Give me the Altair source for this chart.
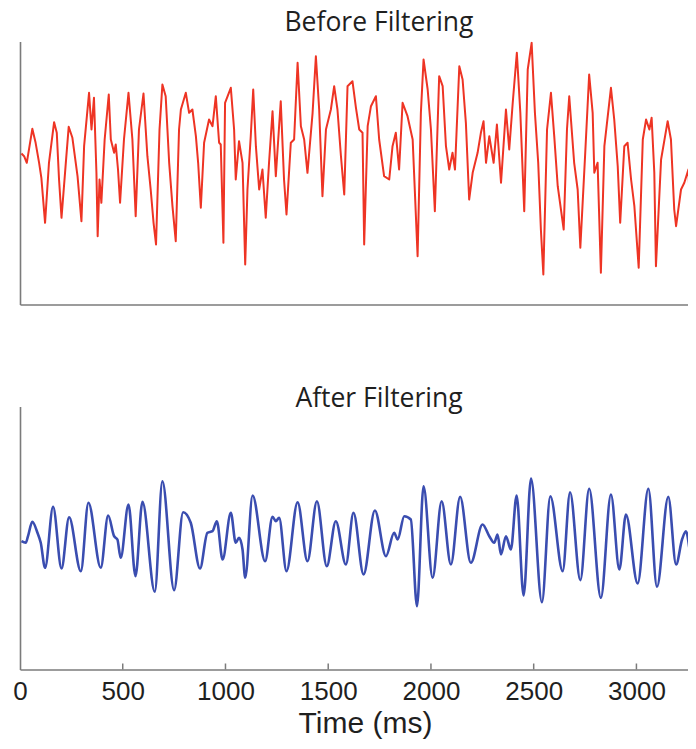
import altair as alt
import pandas as pd

# ---- data (time in ms, amplitude in arbitrary units) ----
red_t = [7, 20, 33, 60, 76, 93, 104, 122, 141, 166,
         179, 190, 202, 223, 237, 255, 280, 299, 312, 336,
         348, 360, 372, 378, 387, 396, 412, 432, 442, 458,
         466, 477, 487, 506, 528, 547, 563, 579, 601, 620,
         636, 650, 662, 679, 693, 709, 726, 742, 758, 774,
         783, 807, 823, 839, 856, 867, 880, 896, 920, 937,
         953, 969, 977, 990, 998, 1026, 1042, 1050, 1066, 1083,
         1096, 1107, 1123, 1135, 1148, 1164, 1180, 1196, 1212, 1229,
         1245, 1269, 1285, 1297, 1318, 1334, 1351, 1367, 1383, 1399,
         1424, 1440, 1456, 1472, 1489, 1513, 1529, 1545, 1562, 1578,
         1594, 1618, 1635, 1651, 1667, 1675, 1692, 1708, 1732, 1748,
         1772, 1797, 1813, 1829, 1845, 1862, 1886, 1911, 1935, 1951,
         1964, 1984, 2000, 2019, 2040, 2057, 2073, 2089, 2105, 2117,
         2138, 2154, 2170, 2186, 2203, 2227, 2243, 2256, 2268, 2284,
         2305, 2321, 2341, 2365, 2381, 2398, 2418, 2435, 2454, 2471,
         2490, 2506, 2522, 2535, 2547, 2565, 2584, 2600, 2617, 2646,
         2662, 2673, 2697, 2714, 2727, 2750, 2770, 2787, 2795, 2811,
         2827, 2844, 2876, 2892, 2909, 2921, 2941, 2957, 2974, 2990,
         3011, 3031, 3047, 3063, 3074, 3087, 3095, 3120, 3152, 3168,
         3184, 3193, 3217, 3233, 3253, 3266, 3282, 3295]

red_v = [19.5, 16.8, 10.2, 44.2, 30.2, 10.2, -4.8, -49.8, 10.2, 50.8,
         40.2, -6.5, -44.8, 10.2, 46.2, 35.2, -3.2, -48.2, 26.8, 80.2,
         43.5, 75.2, 0.2, -63.2, -6.5, -29.8, 33.5, 78.5, 33.5, 20.2,
         28.5, 3.5, -29.8, 33.5, 80.2, 33.5, -43.2, 43.5, 79.5, 16.8,
         -16.5, -49.8, -71.5, 43.5, 88.5, 76.8, 10.2, -33.2, -68.2, 43.5,
         63.5, 80.2, 60.2, 63.5, 36.8, 10.2, -34.8, 30.2, 53.5, 46.8,
         76.8, 30.2, 28.5, -69.8, 70.2, 85.2, 43.5, -6.5, 31.8, 10.2,
         -91.5, -16.5, 36.8, 83.5, 26.8, -16.5, 3.5, -44.8, 10.2, 61.8,
         -3.2, 71.8, -6.5, -41.5, 30.2, 33.5, 110.2, 46.8, 33.5, 0.2,
         60.2, 116.8, 63.5, -23.2, 43.5, 63.5, 86.8, 63.5, 16.8, -21.5,
         86.8, 91.8, 65.2, 43.5, 40.2, -71.5, 46.8, 66.8, 76.8, 33.5,
         -3.2, -6.5, 26.8, 40.2, 3.5, 70.2, 56.8, 33.5, -83.2, 60.2,
         113.5, 83.5, 43.5, -38.2, 96.8, 86.8, 26.8, 3.5, 20.2, 3.5,
         106.8, 93.5, 50.2, -26.5, 0.2, 20.2, 40.2, 51.8, 10.2, 36.8,
         10.2, 48.5, -9.8, 63.5, 23.5, 70.2, 120.2, 60.2, -38.2, 103.5,
         130.2, 60.2, 10.2, -56.5, -101.5, 43.5, 80.2, 36.8, -13.2, -56.5,
         43.5, 76.8, 10.2, -16.5, -74.8, 16.8, 98.5, 60.2, 0.2, 10.2,
         -99.8, 26.8, 85.2, 53.5, 6.8, -49.8, 26.8, 30.2, -6.5, -33.2,
         -94.8, 33.5, 53.5, 43.5, 55.2, 0.2, -93.2, 13.5, 51.8, 33.5,
         -36.5, -53.2, -16.5, -9.8, 3.5, -59.8, 16.8, 40.2]

blue_t = [7, 28, 39, 60, 85, 101, 122, 161, 202, 239,
          296, 333, 393, 429, 458, 474, 490, 528, 562, 596,
          656, 693, 750, 794, 831, 876, 912, 937, 958, 986,
          1026, 1050, 1066, 1083, 1096, 1132, 1193, 1229, 1245, 1261,
          1297, 1351, 1399, 1445, 1493, 1537, 1586, 1623, 1672, 1727,
          1781, 1821, 1838, 1870, 1902, 1932, 1964, 2008, 2052, 2097,
          2142, 2194, 2251, 2284, 2308, 2324, 2341, 2365, 2389, 2417,
          2451, 2487, 2540, 2581, 2641, 2677, 2727, 2770, 2827, 2876,
          2917, 2949, 3006, 3058, 3100, 3155, 3193, 3222, 3241, 3269,
          3295]

blue_v = [-3.2, -4.8, 1.8, 16.2, 5.2, -4.8, -29.8, 31.2, -30.5, 20.8,
          -33.2, 35.2, -29.8, 22.5, 1.8, -1.5, -19.8, 33.5, -38.2, 36.2,
          -53.8, 56.8, -52.2, 25.8, 15.2, -30.5, 5.2, 6.8, 16.8, -21.5,
          25.2, -4.8, 0.2, -11.5, -39.8, 42.5, -23.2, 21.2, 16.8, 20.2,
          -33.2, 35.8, -23.2, 36.8, -28.2, 16.8, -26.5, 25.2, -36.5, 27.5,
          -18.2, 5.2, -1.5, 21.8, 18.5, -68.2, 51.8, -39.8, 36.8, -26.5,
          41.2, -24.8, 13.5, 1.8, -4.8, 3.5, -16.5, 1.8, -11.5, 42.5,
          -57.5, 59.5, -64.2, 41.8, -33.2, 45.8, -42.2, 49.2, -59.8, 43.5,
          -31.5, 23.5, -45.5, 49.2, -48.8, 41.2, -26.5, -1.5, 6.8, -19.8,
          38.5]

tick_values = [500, 1000, 1500, 2000, 2500, 3000]
label_values = [0, 500, 1000, 1500, 2000, 2500, 3000]
panel_titles = ["Before Filtering", "After Filtering"]
x_title = "Time (ms)"
x_domain = [0, 3251]
y_domain = [-131.5, 131.5]

assert len(red_t) == len(red_v) and len(blue_t) == len(blue_v)

df_red = pd.DataFrame({"t": red_t, "v": red_v})
df_blue = pd.DataFrame({"t": blue_t, "v": blue_v})
df_ticks = pd.DataFrame({"t": tick_values})
df_title_top = pd.DataFrame({"label": [panel_titles[0]]})
df_title_bot = pd.DataFrame({"label": [panel_titles[1]]})

# ---- style ----
RED = "#EE3424"
BLUE = "#3A4DB0"
GRAY = "#7b7b7b"
TXT = "#1f1f1f"
W, H = 668, 263
TITLE_X = 359

x_scale = alt.Scale(domain=x_domain, nice=False, zero=False)
y_scale = alt.Scale(domain=y_domain, nice=False, zero=False)

plain_axis = dict(labels=False, ticks=False, title=None, grid=False,
                  domainColor=GRAY, domainWidth=1.6)

bottom_x_axis = alt.Axis(
    values=label_values, format="d", ticks=False, grid=False, labelFlush=False,
    labelOverlap=False, labelFont="Liberation Sans", labelFontSize=26,
    labelColor=TXT, labelPadding=9, domainColor=GRAY, domainWidth=1.6,
    title=x_title, titleFont="Liberation Sans", titleFontSize=30,
    titleFontWeight="normal", titleColor=TXT, titleX=345, titleY=63,
    titleBaseline="alphabetic", titleAlign="center")


def panel_title(df, y_pos):
    return alt.Chart(df).mark_text(
        font="Open Sans", fontSize=26.5, color=TXT, align="center",
        baseline="alphabetic"
    ).encode(
        x=alt.value(TITLE_X), y=alt.value(y_pos), text="label:N"
    )


red_line = alt.Chart(df_red).mark_line(
    color=RED, strokeWidth=2, strokeJoin="round", clip=True
).encode(
    x=alt.X("t:Q", scale=x_scale, axis=alt.Axis(**plain_axis)),
    y=alt.Y("v:Q", scale=y_scale, axis=alt.Axis(**plain_axis)),
)

top = alt.layer(red_line, panel_title(df_title_top, -10.3)).properties(
    width=W, height=H)

blue_line = alt.Chart(df_blue).mark_line(
    color=BLUE, strokeWidth=2.6, strokeJoin="round", interpolate="monotone", clip=True
).encode(
    x=alt.X("t:Q", scale=x_scale, axis=bottom_x_axis),
    y=alt.Y("v:Q", scale=y_scale, axis=alt.Axis(**plain_axis)),
)

inner_ticks = alt.Chart(df_ticks).mark_rule(color=GRAY, strokeWidth=1.5).encode(
    x=alt.X("t:Q", scale=x_scale, axis=bottom_x_axis),
    y=alt.value(H),
    y2=alt.value(H - 6),
)

bottom = alt.layer(blue_line, inner_ticks, panel_title(df_title_bot, 0.7)).properties(
    width=W, height=H)

chart = alt.vconcat(top, bottom, spacing=102, bounds="flush").properties(
    padding={"left": 4, "top": 1.5, "right": 0, "bottom": 0},
).configure_view(stroke=None)

chart.save("out.html", embed_options={"renderer": "svg", "actions": False})
